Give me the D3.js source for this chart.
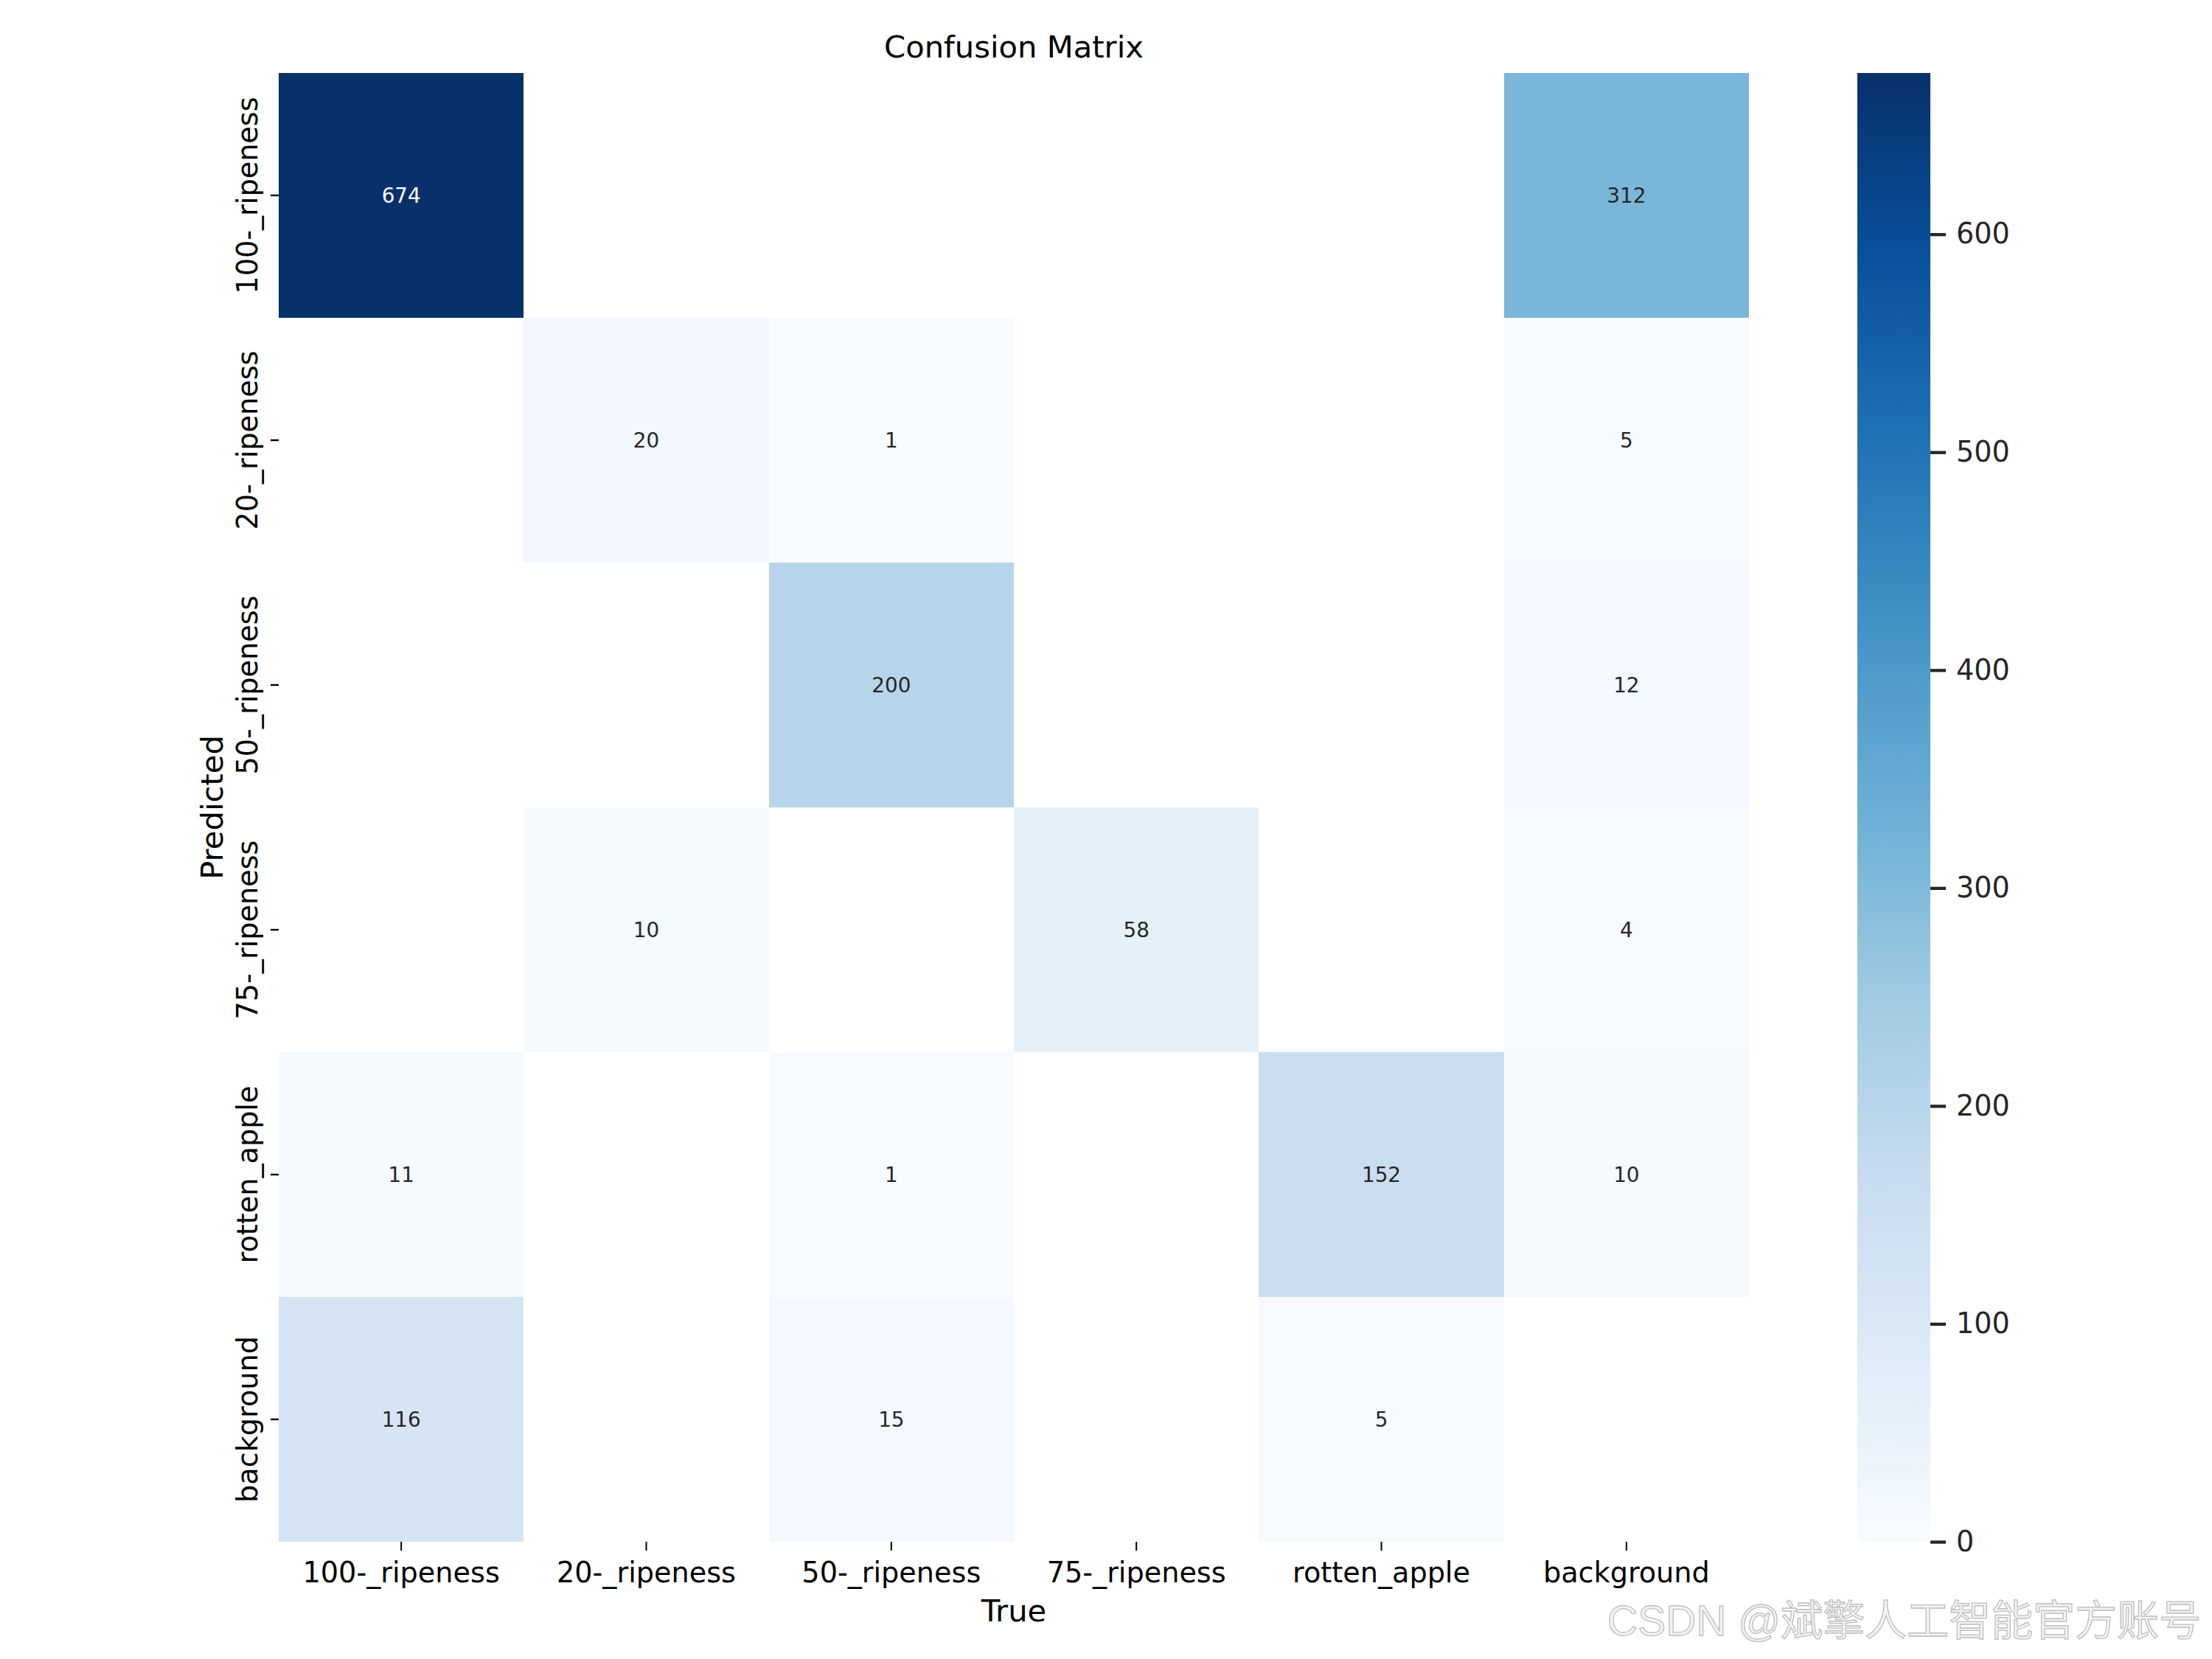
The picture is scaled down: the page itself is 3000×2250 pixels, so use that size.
<!DOCTYPE html>
<html>
<head>
<meta charset="utf-8">
<script src="https://cdn.jsdelivr.net/npm/d3@7"></script>
<style>
  html, body { margin: 0; padding: 0; background: #fff; }
  svg { display: block; }
</style>
</head>
<body>
<script>
// ---- data ----
const categories = ["100-_ripeness", "20-_ripeness", "50-_ripeness", "75-_ripeness", "rotten_apple", "background"];
// rows = Predicted, columns = True
const pred100 = [674, 0, 0, 0, 0, 312];
const pred20 = [0, 20, 1, 0, 0, 5];
const pred50 = [0, 0, 200, 0, 0, 12];
const pred75 = [0, 10, 0, 58, 0, 4];
const predRotten = [11, 0, 1, 0, 152, 10];
const predBackground = [116, 0, 15, 0, 5, 0];
const colorbarTicks = [0, 100, 200, 300, 400, 500, 600];
const blues = ["#f7fbff", "#deebf7", "#c6dbef", "#9ecae1", "#6baed6", "#4292c6", "#2171b5", "#08519c", "#08306b"];
const titleText = "Confusion Matrix";
const xLabelText = "True";
const yLabelText = "Predicted";
const watermark = "CSDN @斌擎人工智能官方账号";

const matrixRows = [pred100, pred20, pred50, pred75, predRotten, predBackground];

// ---- layout ----
const W = 3000, H = 2250;
const hm = { x0: 378, x1: 2372, y0: 99, y1: 2091 };
const cb = { x0: 2519, x1: 2618 };
const font = "'DejaVu Sans', sans-serif";

const svg = d3.select("body").append("svg")
  .attr("width", W).attr("height", H)
  .attr("viewBox", `0 0 ${W} ${H}`);

const x = d3.scaleBand().domain(categories).range([hm.x0, hm.x1]).padding(0);
const y = d3.scaleBand().domain(categories).range([hm.y0, hm.y1]).padding(0);

const vmax = d3.max(matrixRows.flat());
const color = d3.scaleLinear()
  .domain(blues.map((_, i) => i / (blues.length - 1) * vmax))
  .range(blues)
  .interpolate(d3.interpolateRgb)
  .clamp(true);

function relLum(c) {
  const rgb = d3.rgb(c);
  const f = v => { v /= 255; return v <= 0.03928 ? v / 12.92 : Math.pow((v + 0.055) / 1.055, 2.4); };
  return 0.2126 * f(rgb.r) + 0.7152 * f(rgb.g) + 0.0722 * f(rgb.b);
}

const cells = [];
matrixRows.forEach((row, i) => row.forEach((v, j) => {
  if (v > 0) cells.push({ pred: categories[i], tru: categories[j], v });
}));

const gCells = svg.append("g");
gCells.selectAll("rect").data(cells).join("rect")
  .attr("x", d => x(d.tru))
  .attr("y", d => y(d.pred))
  .attr("width", x.bandwidth())
  .attr("height", y.bandwidth())
  .attr("fill", d => color(d.v))
  .attr("shape-rendering", "crispEdges");

gCells.selectAll("text").data(cells).join("text")
  .attr("x", d => x(d.tru) + x.bandwidth() / 2)
  .attr("y", d => y(d.pred) + y.bandwidth() / 2)
  .attr("dy", "0.36em")
  .attr("text-anchor", "middle")
  .attr("font-family", font)
  .attr("font-size", 27.8)
  .attr("fill", d => relLum(color(d.v)) > 0.408 ? "#262626" : "#ffffff")
  .text(d => d3.format(".0f")(d.v));

// ---- axes ----
const xAxis = d3.axisBottom(x).tickSize(12).tickPadding(10);
const gx = svg.append("g").attr("transform", `translate(0,${hm.y1})`).call(xAxis);
gx.select(".domain").remove();
gx.selectAll(".tick line").attr("stroke", "#000").attr("stroke-width", 2);
gx.selectAll(".tick text")
  .attr("font-family", font).attr("font-size", 38.2).attr("fill", "#000")
  .attr("dy", null).attr("y", 55);

const yAxis = d3.axisLeft(y).tickSize(11).tickPadding(0);
const gy = svg.append("g").attr("transform", `translate(${hm.x0},0)`).call(yAxis);
gy.select(".domain").remove();
gy.selectAll(".tick line").attr("stroke", "#000").attr("stroke-width", 2.4);
gy.selectAll(".tick text")
  .attr("font-family", font).attr("font-size", 38.2).attr("fill", "#000")
  .attr("x", null).attr("dy", null)
  .attr("text-anchor", "middle")
  .attr("transform", "translate(-29,0) rotate(-90)");

// ---- colorbar ----
const cbScale = d3.scaleLinear().domain([0, vmax]).range([hm.y1, hm.y0]);
const defs = svg.append("defs");
const grad = defs.append("linearGradient").attr("id", "cbgrad")
  .attr("x1", 0).attr("y1", 1).attr("x2", 0).attr("y2", 0);
grad.selectAll("stop").data(blues).join("stop")
  .attr("offset", (d, i) => i / (blues.length - 1))
  .attr("stop-color", d => d);
svg.append("rect")
  .attr("x", cb.x0).attr("y", hm.y0)
  .attr("width", cb.x1 - cb.x0).attr("height", hm.y1 - hm.y0)
  .attr("fill", "url(#cbgrad)");

const cbAxis = d3.axisRight(cbScale).tickValues(colorbarTicks).tickSize(21).tickPadding(14).tickFormat(d3.format("d"));
const gcb = svg.append("g").attr("transform", `translate(${cb.x1},0)`).call(cbAxis);
gcb.select(".domain").remove();
gcb.selectAll(".tick line").attr("stroke", "#262626").attr("stroke-width", 4.3);
gcb.selectAll(".tick text")
  .attr("font-family", font).attr("font-size", 38.2).attr("fill", "#262626");

// ---- titles ----
const cx = (hm.x0 + hm.x1) / 2, cy = (hm.y0 + hm.y1) / 2;
svg.append("text").attr("x", cx).attr("y", 78)
  .attr("text-anchor", "middle").attr("font-family", font).attr("font-size", 41.7)
  .attr("fill", "#000").text(titleText);
svg.append("text").attr("x", cx).attr("y", 2199)
  .attr("text-anchor", "middle").attr("font-family", font).attr("font-size", 41.7)
  .attr("fill", "#000").text(xLabelText);
svg.append("text")
  .attr("transform", `translate(302,${cy}) rotate(-90)`)
  .attr("text-anchor", "middle").attr("font-family", font).attr("font-size", 41.7)
  .attr("fill", "#000").text(yLabelText);

// ---- watermark ----
svg.append("text").attr("x", 2180).attr("y", 2218)
  .attr("font-family", "'Liberation Sans', 'Noto Sans CJK SC', sans-serif")
  .attr("font-size", 57)
  .attr("fill", "#f3f3f3").attr("stroke", "#bdbdbd").attr("stroke-width", 1.3)
  .text(watermark);
</script>
</body>
</html>
